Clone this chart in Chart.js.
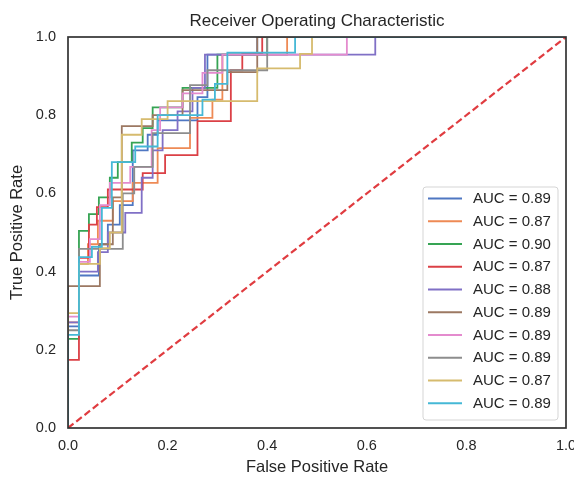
<!DOCTYPE html>
<html>
<head>
<meta charset="utf-8">
<script src="https://cdn.jsdelivr.net/npm/chart.js@4/dist/chart.umd.min.js"></script>
<style>
html,body{margin:0;padding:0;background:#fff;}
#c{display:block;}
</style>
</head>
<body>
<canvas id="c" width="574" height="477" style="width:574px;height:477px"></canvas>
<script>
// ---- data ----
const chartTitle = 'Receiver Operating Characteristic';
const aucLabels = ["AUC = 0.89","AUC = 0.87","AUC = 0.90","AUC = 0.87","AUC = 0.88","AUC = 0.89","AUC = 0.89","AUC = 0.89","AUC = 0.87","AUC = 0.89"];
const xTicks = [0, 0.2, 0.4, 0.6, 0.8, 1.0];
const yTicks = [0, 0.2, 0.4, 0.6, 0.8, 1.0];

const fpr1 = [0,0,0.022,0.022,0.062,0.062,0.08,0.08,0.104,0.104,0.13,0.13,0.16,0.16,0.18,0.18,0.26,0.26,0.28,0.28,0.38,0.38,1];
const tpr1 = [0,0.26,0.26,0.39,0.39,0.47,0.47,0.52,0.52,0.57,0.57,0.71,0.71,0.75,0.75,0.787,0.787,0.846,0.846,0.955,0.955,1,1];

const fpr2 = [0,0,0.022,0.022,0.04,0.04,0.06,0.06,0.09,0.09,0.13,0.13,0.18,0.18,0.245,0.245,0.29,0.29,0.31,0.31,0.44,0.44,1];
const tpr2 = [0,0.27,0.27,0.42,0.42,0.47,0.47,0.53,0.53,0.58,0.58,0.627,0.627,0.716,0.716,0.793,0.793,0.84,0.84,0.955,0.955,1,1];

const fpr3 = [0,0,0.022,0.022,0.042,0.042,0.062,0.062,0.084,0.084,0.1,0.1,0.128,0.128,0.15,0.15,0.17,0.17,0.23,0.23,0.3,0.3,0.4,0.4,1];
const tpr3 = [0,0.228,0.228,0.504,0.504,0.547,0.547,0.59,0.59,0.64,0.64,0.68,0.68,0.73,0.73,0.767,0.767,0.82,0.82,0.87,0.87,0.955,0.955,1,1];

const fpr4 = [0,0,0.022,0.022,0.042,0.042,0.058,0.058,0.08,0.08,0.15,0.15,0.195,0.195,0.26,0.26,0.327,0.327,0.35,0.35,0.39,0.39,1];
const tpr4 = [0,0.174,0.174,0.435,0.435,0.52,0.52,0.565,0.565,0.61,0.61,0.652,0.652,0.698,0.698,0.785,0.785,0.915,0.915,0.957,0.957,1,1];

const fpr5 = [0,0,0.022,0.022,0.06,0.06,0.08,0.08,0.115,0.115,0.148,0.148,0.17,0.17,0.19,0.19,0.22,0.22,0.25,0.25,0.275,0.275,0.617,0.617,1];
const tpr5 = [0,0.27,0.27,0.40,0.40,0.45,0.45,0.50,0.50,0.55,0.55,0.64,0.64,0.71,0.71,0.762,0.762,0.81,0.81,0.87,0.87,0.955,0.955,1,1];

const fpr6 = [0,0,0.064,0.064,0.09,0.09,0.108,0.108,0.17,0.17,0.23,0.23,0.32,0.32,0.38,0.38,1];
const tpr6 = [0,0.363,0.363,0.47,0.47,0.59,0.59,0.772,0.772,0.80,0.80,0.864,0.864,0.91,0.91,1,1];

const fpr7 = [0,0,0.022,0.022,0.044,0.044,0.064,0.064,0.084,0.084,0.125,0.125,0.168,0.168,0.185,0.185,0.23,0.23,0.27,0.27,0.31,0.31,0.56,0.56,1];
const tpr7 = [0,0.285,0.285,0.425,0.425,0.483,0.483,0.57,0.57,0.627,0.627,0.668,0.668,0.762,0.762,0.82,0.82,0.856,0.856,0.908,0.908,0.955,0.955,1,1];

const fpr8 = [0,0,0.022,0.022,0.11,0.11,0.133,0.133,0.17,0.17,0.245,0.245,0.28,0.28,0.40,0.40,1];
const tpr8 = [0,0.25,0.25,0.458,0.458,0.60,0.60,0.668,0.668,0.754,0.754,0.877,0.877,0.915,0.915,1,1];

const fpr9 = [0,0,0.022,0.022,0.064,0.064,0.084,0.084,0.108,0.108,0.148,0.148,0.2,0.2,0.38,0.38,0.466,0.466,0.49,0.49,1];
const tpr9 = [0,0.294,0.294,0.42,0.42,0.46,0.46,0.50,0.50,0.75,0.75,0.79,0.79,0.836,0.836,0.92,0.92,0.957,0.957,1,1];

const fpr10 = [0,0,0.022,0.022,0.048,0.048,0.068,0.068,0.088,0.088,0.135,0.135,0.18,0.18,0.27,0.27,0.295,0.295,0.32,0.32,0.456,0.456,1];
const tpr10 = [0,0.238,0.238,0.437,0.437,0.463,0.463,0.563,0.563,0.68,0.68,0.72,0.72,0.80,0.80,0.84,0.84,0.88,0.88,0.96,0.96,1,1];

const chanceX = [0, 1];
const chanceY = [0, 1];

// ---- styling ----
const colors = ['#4f77c2','#ee8a55','#36a454','#db4046','#8070c6','#9c7862','#e48bce','#8d8d8d','#d6bb6e','#45b8d6'];
const FONT = "'Liberation Sans', Arial, Helvetica, sans-serif";
const TXT = '#262626';

const fprs = [fpr1,fpr2,fpr3,fpr4,fpr5,fpr6,fpr7,fpr8,fpr9,fpr10];
const tprs = [tpr1,tpr2,tpr3,tpr4,tpr5,tpr6,tpr7,tpr8,tpr9,tpr10];

const datasets = fprs.map((f, i) => ({
  label: aucLabels[i],
  data: f.map((x, j) => ({x: x, y: tprs[i][j]})),
  borderColor: colors[i],
  backgroundColor: colors[i],
  borderWidth: 1.8,
  pointRadius: 0,
  fill: false,
  tension: 0,
  order: 20 - i
}));
datasets.push({
  label: 'chance',
  data: chanceX.map((x, j) => ({x: x, y: chanceY[j]})),
  borderColor: '#e03c40',
  borderWidth: 2.2,
  borderDash: [7, 3.5],
  pointRadius: 0,
  fill: false,
  order: 0
});

const framePlugin = {
  id: 'frameAndLegend',
  afterDraw(chart) {
    const ctx = chart.ctx;
    const a = chart.chartArea;
    ctx.save();
    // title centred over the axes
    ctx.fillStyle = TXT;
    ctx.font = '17px ' + FONT;
    ctx.textAlign = 'center';
    ctx.textBaseline = 'middle';
    ctx.fillText(chartTitle, (a.left + a.right) / 2, 21);
    // axes frame
    ctx.strokeStyle = '#333333';
    ctx.lineWidth = 1.7;
    ctx.strokeRect(a.left, a.top, a.right - a.left, a.bottom - a.top);
    // legend box
    const bx = 423, by = 187, bw = 135, bh = 233, r = 3;
    ctx.beginPath();
    ctx.moveTo(bx + r, by);
    ctx.lineTo(bx + bw - r, by);
    ctx.arcTo(bx + bw, by, bx + bw, by + r, r);
    ctx.lineTo(bx + bw, by + bh - r);
    ctx.arcTo(bx + bw, by + bh, bx + bw - r, by + bh, r);
    ctx.lineTo(bx + r, by + bh);
    ctx.arcTo(bx, by + bh, bx, by + bh - r, r);
    ctx.lineTo(bx, by + r);
    ctx.arcTo(bx, by, bx + r, by, r);
    ctx.closePath();
    ctx.fillStyle = 'rgba(255,255,255,0.85)';
    ctx.fill();
    ctx.strokeStyle = '#d5d5d5';
    ctx.lineWidth = 1;
    ctx.stroke();
    // legend entries
    ctx.font = '15px ' + FONT;
    ctx.textBaseline = 'middle';
    ctx.textAlign = 'left';
    for (let i = 0; i < aucLabels.length; i++) {
      const y = 198.5 + 22.75 * i;
      ctx.strokeStyle = colors[i];
      ctx.lineWidth = 2.2;
      ctx.beginPath();
      ctx.moveTo(428, y);
      ctx.lineTo(462, y);
      ctx.stroke();
      ctx.fillStyle = TXT;
      ctx.fillText(chart.data.datasets[i].label, 473, y + 0.5);
    }
    ctx.restore();
  }
};

new Chart(document.getElementById('c'), {
  type: 'line',
  data: { datasets: datasets },
  options: {
    responsive: false,
    animation: false,
    devicePixelRatio: 1,
    layout: { padding: { left: 0, right: 8, top: 37, bottom: 0 } },
    plugins: {
      legend: { display: false },
      tooltip: { enabled: false },
      title: { display: false }
    },
    scales: {
      x: {
        type: 'linear',
        min: 0, max: 1,
        afterBuildTicks: (s) => { s.ticks = xTicks.map(v => ({value: v})); },
        ticks: {
          color: TXT,
          font: { family: FONT, size: 14.5 },
          padding: 9,
          maxRotation: 0,
          autoSkip: false,
          callback: (v) => Number(v).toFixed(1)
        },
        grid: { display: false, drawTicks: false, tickLength: 0 },
        border: { display: false },
        title: {
          display: true,
          text: 'False Positive Rate',
          color: TXT,
          font: { family: FONT, size: 16.5 },
          padding: { top: 0, bottom: 0 }
        },
        afterFit: (s) => { s.height = 49; s.paddingLeft = 0; s.paddingRight = 0; }
      },
      y: {
        type: 'linear',
        min: 0, max: 1,
        afterBuildTicks: (s) => { s.ticks = yTicks.map(v => ({value: v})); },
        ticks: {
          color: TXT,
          font: { family: FONT, size: 14.5 },
          padding: 12,
          autoSkip: false,
          callback: (v) => Number(v).toFixed(1)
        },
        grid: { display: false, drawTicks: false, tickLength: 0 },
        border: { display: false },
        title: {
          display: true,
          text: 'True Positive Rate',
          color: TXT,
          font: { family: FONT, size: 16.5 },
          padding: { top: 8, bottom: 0 }
        },
        afterFit: (s) => { s.width = 68; s.paddingTop = 0; s.paddingBottom = 0; }
      }
    }
  },
  plugins: [framePlugin]
});
</script>
</body>
</html>
